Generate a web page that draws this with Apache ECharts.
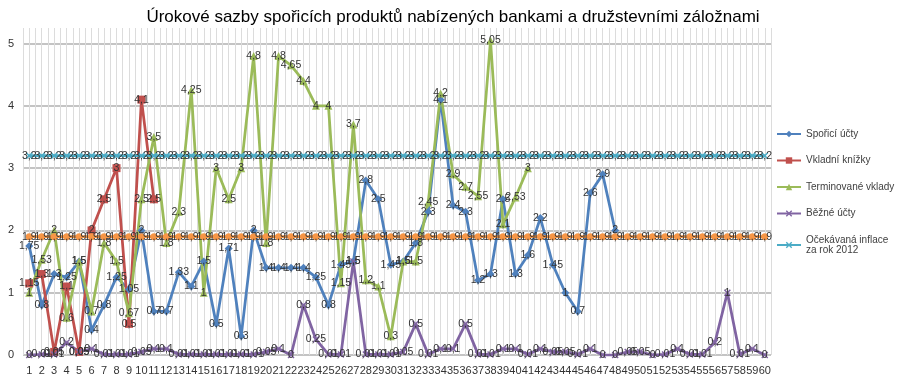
<!DOCTYPE html>
<html><head><meta charset="utf-8">
<script src="https://cdn.jsdelivr.net/npm/echarts@6/dist/echarts.min.js"></script>
<style>html,body{margin:0;padding:0;background:#fff}#c{width:906px;height:384px}</style>
</head><body><div id="c"></div>
<script>
const categories = ['1','2','3','4','5','6','7','8','9','10','11','12','13','14','15','16','17','18','19','20',
  '21','22','23','24','25','26','27','28','29','30','31','32','33','34','35','36','37','38','39','40',
  '41','42','43','44','45','46','47','48','49','50','51','52','53','54','55','56','57','58','59','60'];
const sporiciUcty = [1.75,0.8,1.3,1.25,1.5,0.4,0.8,1.25,1.05,2, 0.7,0.7,1.33,1.1,1.5,0.5,1.71,0.3,2,1.4,
  1.4,1.4,1.4,1.25,0.8,1.45,1.5,2.8,2.5,1.45, 1.5,1.8,2.3,4.1,2.4,2.3,1.2,1.3,2.5,1.3,
  1.6,2.2,1.45,1,0.7,2.6,2.9,2,null,null, null,null,null,null,null,null,null,null,null,null];
const vkladniKnizky = [1.15,1.3,0.05,1.1,0.05,2,2.5,3,0.5,4.1, 2.5,null,null,null,null,null,null,null,null,null,
  null,null,null,null,null,null,null,null,null,null, null,null,null,null,null,null,null,null,null,null,
  null,null,null,null,null,null,null,null,null,null, null,null,null,null,null,null,null,null,null,null];
const terminovaneVklady = [1,1.53,2,0.6,1.5,0.7,1.8,1.5,0.67,2.5, 3.5,1.8,2.3,4.25,1,3,2.5,3,4.8,1.8,
  4.8,4.65,4.4,4,4,1.15,3.7,1.2,1.1,0.3, 1.5,1.5,2.45,4.2,2.9,2.7,2.55,5.05,2.1,2.53,
  3,null,null,null,null,null,null,null,null,null, null,null,null,null,null,null,null,null,null,null];
const bezneUcty = [0,0.01,0.01,0.2,0.05,0.1,0.01,0.01,0.01,0.05, 0.1,0.1,0.01,0.01,0.01,0.01,0.01,0.01,0.01,0.05,
  0.1,0,0.8,0.25,0.01,0.01,1.5,0.01,0.01,0.01, 0.05,0.5,0.01,0.1,0.1,0.5,0.01,0.01,0.1,0.1,
  0.01,0.1,0.05,0.05,0.01,0.1,0,0,0.05,0.05, 0,0.01,0.1,0.01,0.01,0.2,1,0.01,0.1,0];
const inflace2012 = [3.2,3.2,3.2,3.2,3.2,3.2,3.2,3.2,3.2,3.2, 3.2,3.2,3.2,3.2,3.2,3.2,3.2,3.2,3.2,3.2,
  3.2,3.2,3.2,3.2,3.2,3.2,3.2,3.2,3.2,3.2, 3.2,3.2,3.2,3.2,3.2,3.2,3.2,3.2,3.2,3.2,
  3.2,3.2,3.2,3.2,3.2,3.2,3.2,3.2,3.2,3.2, 3.2,3.2,3.2,3.2,3.2,3.2,3.2,3.2,3.2,3.2];
const oranzova = [1.9,1.9,1.9,1.9,1.9,1.9,1.9,1.9,1.9,1.9, 1.9,1.9,1.9,1.9,1.9,1.9,1.9,1.9,1.9,1.9,
  1.9,1.9,1.9,1.9,1.9,1.9,1.9,1.9,1.9,1.9, 1.9,1.9,1.9,1.9,1.9,1.9,1.9,1.9,1.9,1.9,
  1.9,1.9,1.9,1.9,1.9,1.9,1.9,1.9,1.9,1.9, 1.9,1.9,1.9,1.9,1.9,1.9,1.9,1.9,1.9,1.9];
const yTicks = ['0','1','2','3','4','5'];

const FONT = 'Liberation Sans, Arial, sans-serif';
const X_SYM = 'path://M0,1.5L1.5,0L5,3.5L8.5,0L10,1.5L6.5,5L10,8.5L8.5,10L5,6.5L1.5,10L0,8.5L3.5,5Z';
const fmt = p => (p.value == null ? '' : String(p.value).replace('.', ','));
const lbl = {show: true, position: 'inside', formatter: fmt, color: '#333', fontSize: 10.5, fontFamily: FONT};

function mk(name, data, color, symbol, size, w) {
  return {name, type: 'line', data, symbol, symbolSize: size, showAllSymbol: true,
    lineStyle: {color, width: w || 2.75}, itemStyle: {color},
    label: lbl, emphasis: {disabled: true}, xAxisIndex: 0, yAxisIndex: 0};
}

const chart = echarts.init(document.getElementById('c'), null, {renderer: 'canvas'});
chart.setOption({
  animation: false,
  backgroundColor: '#fff',
  title: {text: 'Úrokové sazby spořicích produktů nabízených bankami a družstevními záložnami',
    left: 'center', top: 4, textStyle: {fontFamily: FONT, fontSize: 17, fontWeight: 'normal', color: '#000'}},
  legend: {orient: 'vertical', left: 771, top: 124, itemWidth: 24, itemHeight: 8, itemGap: 16.5,
    data: ['Spořicí účty','Vkladní knížky','Terminované vklady','Běžné účty','Očekávaná inflace\nza rok 2012'],
    textStyle: {fontFamily: FONT, fontSize: 10, color: '#404040'}},
  grid: {left: 23, right: 135, top: 28, bottom: 29, containLabel: false},
  xAxis: [
    {type: 'category', data: categories, boundaryGap: true,
      axisLine: {show: false}, axisTick: {show: false}, splitLine: {show: false},
      axisLabel: {interval: 0, margin: 10, fontSize: 11, fontFamily: FONT, color: '#333'}},
    {type: 'value', min: 0.5, max: 60.5, interval: 0.5, position: 'bottom',
      axisLine: {show: false}, axisTick: {show: false}, axisLabel: {show: false},
      splitLine: {show: true, lineStyle: {color: '#dcdcdc', width: 1}}}
  ],
  yAxis: {type: 'value', min: 0, max: 5.25, interval: 1,
    axisLine: {show: false}, axisTick: {show: false},
    axisLabel: {margin: 9, fontSize: 11, fontFamily: FONT, color: '#333',
      formatter: v => (Number.isInteger(v) ? yTicks[v] : '')},
    splitLine: {show: true, lineStyle: {width: 1.5,
      color: ['#b0b0b0','#b0b0b0','#b0b0b0','#b0b0b0','#b0b0b0','#b0b0b0','rgba(0,0,0,0)']}}},
  series: [
    mk('Spořicí účty', sporiciUcty, '#4F81BD', 'diamond', 8),
    mk('Vkladní knížky', vkladniKnizky, '#C0504D', 'rect', 8),
    mk('Terminované vklady', terminovaneVklady, '#9BBB59', 'triangle', 8),
    mk('Běžné účty', bezneUcty, '#8064A2', X_SYM, 7),
    mk('Očekávaná inflace\nza rok 2012', inflace2012, '#4BACC6', X_SYM, 7),
    mk('Inflace', oranzova, '#F79646', 'circle', 7)
  ]
});
</script></body></html>
